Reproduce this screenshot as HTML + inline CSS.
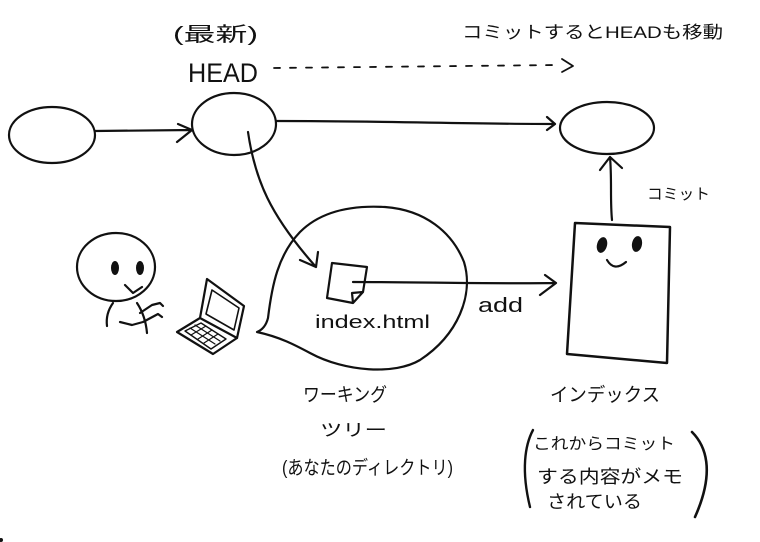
<!DOCTYPE html>
<html><head><meta charset="utf-8"><style>
html,body{margin:0;padding:0;background:#fff;}
svg{display:block;}
text{font-family:"Liberation Sans","Noto Sans CJK JP",sans-serif;fill:#111;}
</style></head><body>
<svg width="760" height="542" viewBox="0 0 760 542" xmlns="http://www.w3.org/2000/svg">
<g fill="none" stroke="#111" stroke-width="2.2" stroke-linecap="round" stroke-linejoin="round">
<!-- commits -->
<ellipse cx="52" cy="135" rx="43" ry="28"/>
<ellipse cx="234" cy="124" rx="42" ry="31"/>
<ellipse cx="607" cy="128" rx="47" ry="26"/>
<!-- arrow 1->2 -->
<path d="M95,131 L192,130 M178,124 L192,130 L177,142"/>
<!-- arrow 2->3 -->
<path d="M277,121 C380,121 470,124 555,124 M547,117 L555,124 L547,130"/>
<!-- dashed HEAD arrow -->
<path d="M274,68 L558,65" stroke-dasharray="6,10" stroke-width="1.8"/>
<path d="M562,59 L573,66 L562,72" stroke-width="1.8"/>
<!-- commit arrow -->
<path d="M612,220 C610,200 612,180 610,157 M600,170 L610,157 L622,168"/>
<!-- index box -->
<path d="M575,223 L670,227 L667,363 L567,354 Z" stroke-width="2.5"/>
<path d="M607,260 Q614,272 626,262"/>
<!-- curved arrow to file -->
<path d="M248,132 C255,180 270,215 316,267 M318,252 L316,267 L300,260"/>
<!-- bubble -->
<path d="M257,332 C262,330 266,326 268,318 C272,285 278,255 300,232 C320,212 350,205 385,207 C425,210 452,232 464,262 C474,295 458,335 420,360 C395,375 345,372 310,353 C295,345 280,337 257,332 Z"/>
<!-- document -->
<path d="M332,263 L367,267 L363,292 L353,303 L327,298 Z M353,303 L352,293 L363,292"/>
<!-- add arrow -->
<path d="M353,282 C420,282 490,284 556,283 M545,275 L556,283 L540,295"/>
<!-- person -->
<ellipse cx="116" cy="267" rx="39" ry="34"/>
<path d="M125,285 L133,293 L142,287"/>
<path d="M113,303 C108,310 106,318 107,326"/>
<path d="M137,303 C143,312 146,322 147,333"/>
<path d="M120,322 L132,325 L143,322 L158,314 L162,317"/>
<path d="M140,313 L152,305 L160,303 L163,306"/>
<!-- laptop -->
<path d="M207,279 L244,306 L237,338 L200,318 Z"/>
<path d="M212,290 L239,308 L234,330 L206,314 Z" stroke-width="1.6"/>
<path d="M200,318 L177,332 L213,354 L237,338"/>
<path d="M185,331 L201,323 L226,339 L211,349 Z" stroke-width="1.4"/>
<path d="M190,328 L215,344 M195,325 L220,341 M191,335 L206,326 M198,339 L212,330 M204,343 L218,334" stroke-width="1.2"/>
<!-- brackets -->
<path d="M533,430 C525,445 521,470 530,507" stroke-width="2.4"/>
<path d="M692,432 C705,445 716,470 695,517" stroke-width="2.6"/>
</g>
<g fill="#111">
<ellipse cx="602" cy="245" rx="5" ry="8" transform="rotate(15 602 245)"/>
<ellipse cx="637" cy="244" rx="5" ry="8" transform="rotate(10 637 244)"/>
<ellipse cx="115" cy="268" rx="4" ry="7"/>
<ellipse cx="140" cy="268" rx="4" ry="7"/>
<circle cx="1" cy="540" r="2"/>
</g>
<!-- texts -->
<text x="173" y="41" font-size="20" textLength="85" lengthAdjust="spacingAndGlyphs">(最新)</text>
<text x="188" y="82" font-size="27" textLength="70" lengthAdjust="spacingAndGlyphs">HEAD</text>
<text x="462" y="38" font-size="17" textLength="261" lengthAdjust="spacingAndGlyphs">コミットするとHEADも移動</text>
<text x="647" y="199" font-size="15" textLength="63" lengthAdjust="spacingAndGlyphs">コミット</text>
<text x="478" y="312" font-size="20" textLength="45" lengthAdjust="spacingAndGlyphs">add</text>
<text x="315" y="328" font-size="18" textLength="115" lengthAdjust="spacingAndGlyphs">index.html</text>
<text x="303" y="401" font-size="19" textLength="84" lengthAdjust="spacingAndGlyphs">ワーキング</text>
<text x="320" y="436" font-size="17" textLength="67" lengthAdjust="spacingAndGlyphs">ツリー</text>
<text x="282" y="474" font-size="19" textLength="171" lengthAdjust="spacingAndGlyphs">(あなたのディレクトリ)</text>
<text x="550" y="401" font-size="19" textLength="110" lengthAdjust="spacingAndGlyphs">インデックス</text>
<text x="533" y="449" font-size="16" textLength="142" lengthAdjust="spacingAndGlyphs">これからコミット</text>
<text x="537" y="483" font-size="18" textLength="146" lengthAdjust="spacingAndGlyphs">する内容がメモ</text>
<text x="547" y="508" font-size="18" textLength="95" lengthAdjust="spacingAndGlyphs">されている</text>
</svg>
</body></html>
